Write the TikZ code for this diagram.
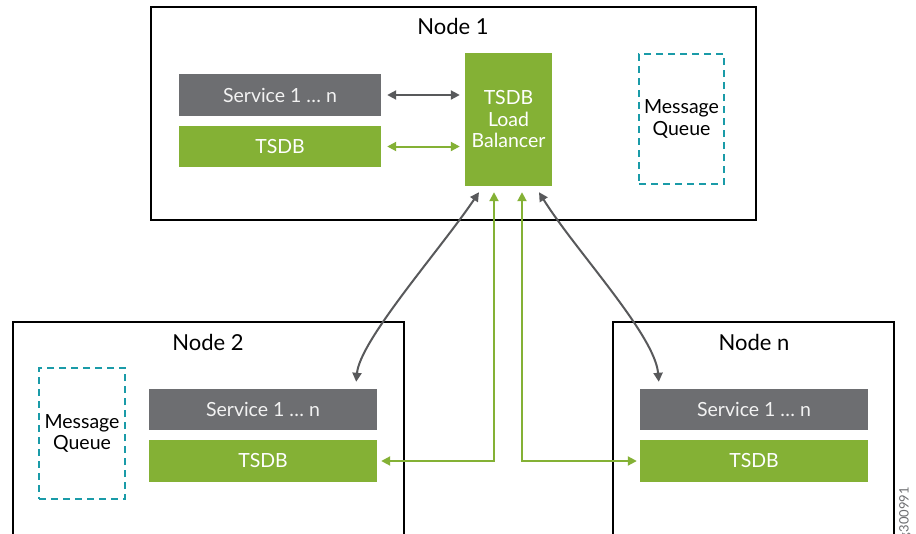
\documentclass[tikz,border=0pt]{standalone}
\usepackage{fontspec}
\setmainfont{Lato}
\usetikzlibrary{arrows.meta}
\definecolor{tgreen}{HTML}{84B135}
\definecolor{tgrey}{HTML}{6D6E71}
\definecolor{tarrow}{HTML}{58595B}
\definecolor{tteal}{HTML}{1A9BA8}
\definecolor{tlight}{HTML}{F2F2F2}
\begin{document}
\begin{tikzpicture}[x=1pt,y=-1pt,
  nodebox/.style={draw=black, line width=2.5pt, fill=white, inner sep=0pt},
  title/.style={font=\fontsize{22}{24}\selectfont, inner sep=0pt},
  greybox/.style={fill=tgrey, text=tlight, inner sep=0pt, font=\fontsize{19.5}{21.5}\selectfont},
  greenbox/.style={fill=tgreen, text=white, inner sep=0pt, font=\fontsize{19.5}{21.5}\selectfont, align=center},
  queuebox/.style={draw=tteal, line width=2.5pt, dash pattern=on 7pt off 5pt, inner sep=0pt, align=center, font=\fontsize{19.5}{21.5}\selectfont},
  garrow/.style={draw=tarrow, line width=2pt, {Triangle[length=9pt,width=9pt]}-{Triangle[length=9pt,width=9pt]}},
  grarrow/.style={draw=tgreen, line width=2pt, {Triangle[length=9pt,width=9pt]}-{Triangle[length=9pt,width=9pt]}}
]
\clip (0,0) rectangle (916,533);
\fill[white] (0,0) rectangle (916,533);

% containers
\node[nodebox, minimum width=605pt, minimum height=213pt] (n1) at (453.5,113.5) {};
\node[nodebox, minimum width=391pt, minimum height=278pt] (n2) at (208.5,461) {};
\node[nodebox, minimum width=281pt, minimum height=278pt] (nn) at (753.5,461) {};

\node[title] (t1) at (453,26) {Node 1};
\node[title] (t2) at (208,342) {Node 2};
\node[title] (tn) at (754,342) {Node n};

% node 1 content
\node[greybox, minimum width=202pt, minimum height=42pt] (svc1) at (280,95) {Service 1 … n};
\node[greenbox, minimum width=202pt, minimum height=41pt] (tsdb1) at (280,146.5) {TSDB};
\node[greenbox, minimum width=87pt, minimum height=133pt] (lb) at (508.5,119.5) {TSDB\\Load\\Balancer};
\node[queuebox, minimum width=85pt, minimum height=130pt] (mq1) at (681.5,119) {Message\\Queue};

% node 2 content
\node[queuebox, minimum width=86pt, minimum height=131pt] (mq2) at (82,433.5) {Message\\Queue};
\node[greybox, minimum width=228pt, minimum height=41pt] (svc2) at (263,409.5) {Service 1 … n};
\node[greenbox, minimum width=228pt, minimum height=42pt] (tsdb2) at (263,461) {TSDB};

% node n content
\node[greybox, minimum width=228pt, minimum height=41pt] (svcn) at (754,409.5) {Service 1 … n};
\node[greenbox, minimum width=228pt, minimum height=42pt] (tsdbn) at (754,461) {TSDB};

% connectors inside node 1
\draw[garrow, shorten <=6pt, shorten >=5pt] (svc1.east) -- (lb.west |- svc1.east);
\draw[grarrow, shorten <=6pt, shorten >=5pt] (tsdb1.east) -- (lb.west |- tsdb1.east);

% green links to bottom TSDBs
\draw[grarrow, shorten <=6pt, shorten >=4pt] ([xshift=-14.5pt]lb.south) |- (tsdb2.east);
\draw[grarrow, shorten <=6pt, shorten >=3pt] ([xshift=13.5pt]lb.south) |- (tsdbn.west);

% grey curved links to services
\coordinate (lbl) at ([xshift=-29.5pt,yshift=-6pt]lb.south);
\coordinate (lbr) at ([xshift=30.5pt,yshift=-6pt]lb.south);
\coordinate (s2t) at ([xshift=-21pt,yshift=7pt]svc2.north east);
\coordinate (snt) at ([xshift=19pt,yshift=7pt]svcn.north west);
\draw[garrow] (lbl) .. controls (440,250) and (360,340) .. (s2t);
\draw[garrow] (lbr) .. controls (575,250) and (655,335) .. (snt);

% figure tag
\node[rotate=90, anchor=east, inner sep=0pt, text=tgrey, font=\fontsize{13}{13}\selectfont] (tag) at (905,487) {g300991};
\end{tikzpicture}
\end{document}
